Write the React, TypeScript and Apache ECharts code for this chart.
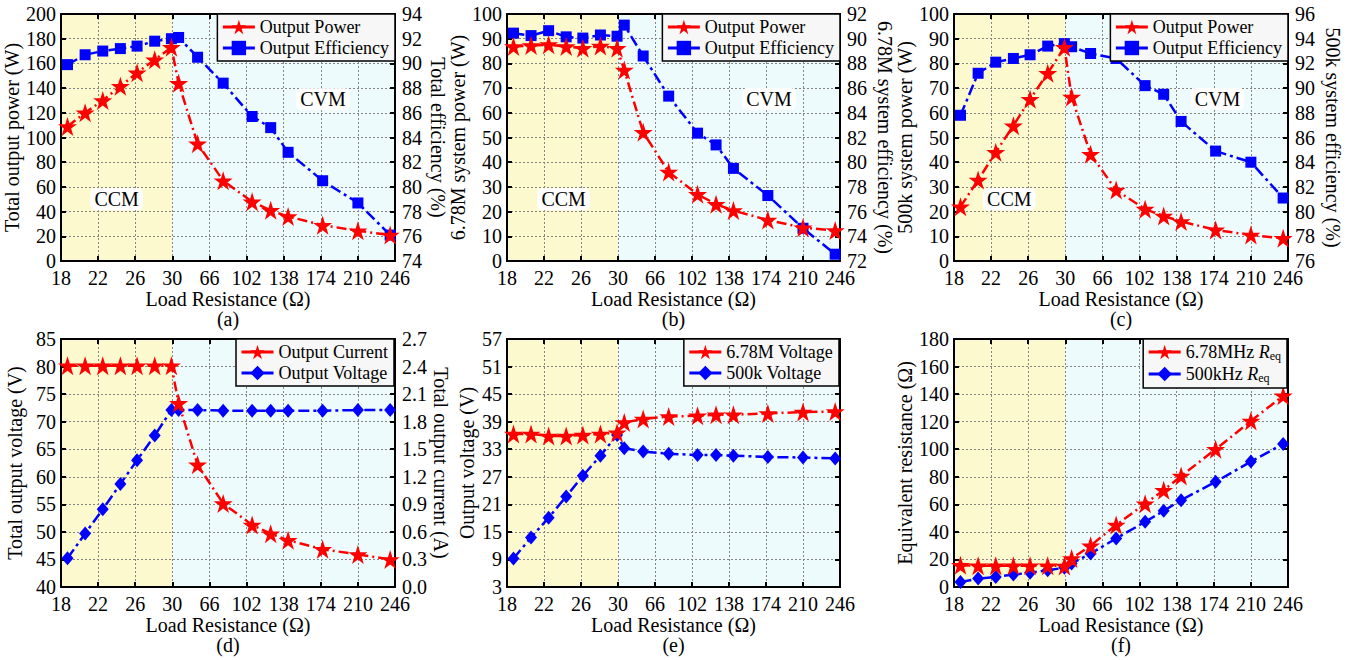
import React, { useEffect, useRef } from 'react';
import * as echarts from 'echarts';

// ---------- data ----------
const xTickLabels = ['18', '22', '26', '30', '66', '102', '138', '174', '210', '246'];
const loadResistance = [18.7, 20.6, 22.5, 24.4, 26.2, 28.1, 29.9, 36.1, 54.5, 79.3, 107.4, 125.4, 142.3, 175.8, 210, 241.3];

const powerA = [109, 120, 130, 141.5, 152.5, 163, 173, 144, 95, 65, 48, 41, 36, 29, 24.5, 21];
const effA = [89.9, 90.7, 91.0, 91.2, 91.4, 91.8, 92.0, 92.1, 90.5, 88.4, 85.7, 84.8, 82.8, 80.5, 78.7, 76.1];

const powerB = [86.8, 87.2, 87.6, 86.8, 86.1, 87.0, 86.1, 77.3, 52.1, 36, 27, 23, 20.4, 16.6, 13.5, 12.3];
const effB = [90.45, 90.25, 90.65, 90.15, 90.05, 90.3, 90.2, 91.1, 88.6, 85.35, 82.35, 81.4, 79.5, 77.3, 74.65, 72.55];

const powerC = [22, 32.8, 44, 54.8, 65.5, 76, 86.5, 66.4, 43.2, 28.7, 21, 18.2, 16, 12.6, 10.5, 9.2];
const effC = [87.8, 91.2, 92.1, 92.4, 92.7, 93.4, 93.6, 93.35, 92.8, 92.4, 90.2, 89.5, 87.3, 84.9, 84.0, 81.1];

const currentD = [2.41, 2.41, 2.41, 2.41, 2.41, 2.41, 2.41, 2.0, 1.33, 0.91, 0.675, 0.58, 0.51, 0.41, 0.355, 0.3];
const voltageD = [45.2, 49.7, 54.1, 58.7, 63.0, 67.5, 72.1, 72.1, 72.1, 72.0, 72.0, 72.0, 72.0, 72.0, 72.1, 72.1];

const voltHfE = [36.3, 36.3, 35.9, 35.9, 36.1, 36.3, 36.6, 38.8, 39.6, 40.1, 40.3, 40.5, 40.5, 40.8, 41.1, 41.2];
const voltLfE = [9.2, 13.8, 18.1, 22.7, 27.2, 31.6, 36.1, 33.2, 32.5, 32.0, 31.75, 31.75, 31.6, 31.3, 31.2, 31.0];

const reqHfF = [15.8, 15.5, 15.5, 15.5, 15.5, 15.5, 15.3, 20.6, 30, 45, 60.5, 70.3, 80.5, 100, 120.5, 138.8];
const reqLfF = [3.6, 6.1, 7.3, 9.0, 10.4, 12.1, 14, 17, 24.3, 35.2, 47.3, 55.3, 63, 76.4, 91, 103.8];

// ---------- styling ----------
const FONT = 'Liberation Serif';
const RED = '#FF0000';
const BLUE = '#0000FF';
const YELLOW_BG = '#FDF9CF';
const CYAN_BG = '#EEFBFD';
const STAR = 'path://M50,0 L61.2,34.5 L97.6,34.5 L68.2,55.9 L79.4,90.5 L50,69.1 L20.6,90.5 L31.8,55.9 L2.4,34.5 L38.8,34.5 Z';
const DIAMOND = 'path://M50,0 L100,50 L50,100 L0,50 Z';

const axisPos = (r: number) => (r <= 30 ? (r - 18) / 4 : 3 + (r - 30) / 36);

type SeriesDef = { name: string; data: number[]; right: boolean; kind: 'star' | 'square' | 'diamond' };
type AxisDef = { name: string; min: number; max: number; interval: number; gap: number; dec?: number };
type Panel = {
  grid: { left: number; top: number; width: number; height: number };
  yl: AxisDef;
  yr: AxisDef | null;
  series: SeriesDef[];
  legendRight: number;
  caption: string;
  captionY: number;
  ccm?: [number, number];
  cvm?: [number, number];
};

const panels: Panel[] = [
  {
    grid: { left: 61, top: 14, width: 334, height: 247 },
    yl: { name: 'Total output power (W)', min: 0, max: 200, interval: 20, gap: 34 },
    yr: { name: 'Total efficiency (%)', min: 74, max: 94, interval: 2, gap: 33 },
    series: [
      { name: 'Output Power', data: powerA, right: false, kind: 'star' },
      { name: 'Output Efficiency', data: effA, right: true, kind: 'square' },
    ],
    legendRight: 955, caption: '(a)', captionY: 319, ccm: [1.5, 50], cvm: [7.06, 131],
  },
  {
    grid: { left: 507, top: 14, width: 333, height: 247 },
    yl: { name: '6.78M system power (W)', min: 0, max: 100, interval: 10, gap: 30 },
    yr: { name: '6.78M system efficiency (%)', min: 72, max: 92, interval: 2, gap: 35 },
    series: [
      { name: 'Output Power', data: powerB, right: false, kind: 'star' },
      { name: 'Output Efficiency', data: effB, right: true, kind: 'square' },
    ],
    legendRight: 510, caption: '(b)', captionY: 319, ccm: [1.53, 25], cvm: [7.08, 65.6],
  },
  {
    grid: { left: 954, top: 14, width: 334, height: 247 },
    yl: { name: '500k system power (W)', min: 0, max: 100, interval: 10, gap: 30 },
    yr: { name: '500k system efficiency (%)', min: 76, max: 96, interval: 2, gap: 35 },
    series: [
      { name: 'Output Power', data: powerC, right: false, kind: 'star' },
      { name: 'Output Efficiency', data: effC, right: true, kind: 'square' },
    ],
    legendRight: 62, caption: '(c)', captionY: 319, ccm: [1.49, 25], cvm: [7.1, 65.6],
  },
  {
    grid: { left: 61, top: 339, width: 334, height: 248 },
    yl: { name: 'Total output voltage (V)', min: 40, max: 85, interval: 5, gap: 36 },
    yr: { name: 'Total output current (A)', min: 0, max: 2.7, interval: 0.3, gap: 34, dec: 1 },
    series: [
      { name: 'Output Current', data: currentD, right: true, kind: 'star' },
      { name: 'Output Voltage', data: voltageD, right: false, kind: 'diamond' },
    ],
    legendRight: 956, caption: '(d)', captionY: 645,
  },
  {
    grid: { left: 507, top: 339, width: 333, height: 248 },
    yl: { name: 'Output voltage (V)', min: 3, max: 57, interval: 6, gap: 30 },
    yr: null,
    series: [
      { name: '6.78M Voltage', data: voltHfE, right: false, kind: 'star' },
      { name: '500k Voltage', data: voltLfE, right: false, kind: 'diamond' },
    ],
    legendRight: 511, caption: '(e)', captionY: 645,
  },
  {
    grid: { left: 954, top: 339, width: 334, height: 248 },
    yl: { name: 'Equivalent resistance (\u03A9)', min: 0, max: 180, interval: 20, gap: 30 },
    yr: null,
    series: [
      { name: '6.78MHz Req', data: reqHfF, right: false, kind: 'star' },
      { name: '500kHz Req', data: reqLfF, right: false, kind: 'diamond' },
    ],
    legendRight: 63, caption: '(f)', captionY: 645,
  },
];

const black = '#000';
const axisLine = { show: true, onZero: false, lineStyle: { color: black, width: 2 } };
const axisTick = { show: true, inside: true, length: 5, lineStyle: { color: black, width: 2 } };
const splitLine = { show: true, lineStyle: { color: '#858585', width: 1, type: [2, 2] } };

function buildOption() {
  const grid: any[] = [];
  const xAxis: any[] = [];
  const yAxis: any[] = [];
  const series: any[] = [];
  const legend: any[] = [];
  const graphic: any[] = [];

  panels.forEach((p, i) => {
    grid.push({ ...p.grid, containLabel: false });
    xAxis.push({
      type: 'value', gridIndex: i, position: 'bottom', min: 0, max: 9, interval: 1,
      axisLine, axisTick, splitLine,
      axisLabel: {
        show: true, margin: 8, color: black, fontSize: 20, lineHeight: 18, fontFamily: FONT,
        formatter: (v: number) => xTickLabels[Math.round(v)] ?? '',
      },
      name: 'Load Resistance (\u03A9)', nameLocation: 'middle', nameGap: 27,
      nameTextStyle: { color: black, fontSize: 20, lineHeight: 19, fontFamily: FONT, verticalAlign: 'top' },
    });
    xAxis.push({
      type: 'value', gridIndex: i, position: 'top', min: 0, max: 9, interval: 1,
      axisLine, axisTick, splitLine: { show: false }, axisLabel: { show: false },
    });
    const fmt = (dec?: number) => (v: number) => (dec ? v.toFixed(dec) : String(Math.round(v)));
    yAxis.push({
      type: 'value', gridIndex: i, position: 'left', min: p.yl.min, max: p.yl.max, interval: p.yl.interval,
      axisLine, axisTick, splitLine,
      axisLabel: { margin: 5, color: black, fontSize: 20, lineHeight: 15, fontFamily: FONT, formatter: fmt(p.yl.dec) },
      name: p.yl.name, nameLocation: 'middle', nameGap: p.yl.gap,
      nameTextStyle: { color: black, fontSize: 20, fontFamily: FONT },
    });
    const r = p.yr ?? p.yl;
    yAxis.push({
      type: 'value', gridIndex: i, position: 'right', min: r.min, max: r.max, interval: r.interval,
      axisLine, axisTick, splitLine: { show: false },
      axisLabel: { show: !!p.yr, margin: 7, color: black, fontSize: 20, lineHeight: 15, fontFamily: FONT, formatter: fmt(r.dec) },
      name: p.yr ? p.yr.name : '', nameLocation: 'middle', nameGap: p.yr ? p.yr.gap : 0, nameRotate: -90,
      nameTextStyle: { color: black, fontSize: 20, fontFamily: FONT },
    });

    p.series.forEach((s, k) => {
      const color = s.kind === 'star' ? RED : BLUE;
      const symbol = s.kind === 'star' ? STAR : s.kind === 'square' ? 'rect' : DIAMOND;
      const symbolSize = s.kind === 'star' ? 19 : s.kind === 'square' ? 11 : [12, 14];
      const ser: any = {
        type: 'line', name: s.name, xAxisIndex: 2 * i, yAxisIndex: 2 * i + (s.right ? 1 : 0),
        data: s.data.map((v, j) => [axisPos(loadResistance[j]), v]),
        symbol, symbolSize, showAllSymbol: true,
        itemStyle: { color },
        lineStyle: { color, width: 2.5, type: s.kind === 'star' ? [10, 4, 2, 4] : [11, 4, 3, 4] },
        z: s.kind === 'star' ? 3 : 2,
      };
      if (k === 0) {
        ser.markArea = {
          silent: true, z: -1,
          data: [
            [{ xAxis: 0, itemStyle: { color: YELLOW_BG } }, { xAxis: 3 }],
            [{ xAxis: 3, itemStyle: { color: CYAN_BG } }, { xAxis: 9 }],
          ],
        };
        if (p.ccm && p.cvm) {
          ser.markPoint = {
            silent: true, symbol: 'rect', symbolSize: 0,
            label: {
              show: true, position: 'inside', formatter: '{b}', color: black, fontSize: 20, fontFamily: FONT,
              backgroundColor: '#fff', borderRadius: 5, padding: [2, 4, 0, 4],
            },
            data: [
              { name: 'CCM', coord: p.ccm },
              { name: 'CVM', coord: p.cvm },
            ],
          };
        }
      }
      series.push(ser);
    });

    legend.push({
      data: p.series.map((s) => s.name),
      orient: 'vertical', right: p.legendRight, top: p.grid.top,
      backgroundColor: '#F7F7F7', borderColor: black, borderWidth: 1.5, borderRadius: 0,
      padding: [4, 6, 4, 4], itemGap: 3, itemWidth: 32, itemHeight: 18,
      lineStyle: { type: 'solid', width: 3 },
      textStyle: {
        color: black, fontSize: 18, fontFamily: FONT,
        rich: {
          i: { fontStyle: 'italic', fontSize: 18, fontFamily: FONT, color: black },
          s: { fontSize: 12, fontFamily: FONT, color: black, padding: [8, 0, 0, 0] },
        },
      },
      formatter: (name: string) => (name.endsWith(' Req') ? name.slice(0, -4) + ' {i|R}{s|eq}' : name),
    });

    graphic.push({
      type: 'text', x: p.grid.left + p.grid.width / 2, y: p.captionY,
      style: { text: p.caption, fill: black, font: `20px "${FONT}"`, lineHeight: 20, textAlign: 'center', textVerticalAlign: 'middle' },
    });
  });

  return {
    animation: false,
    textStyle: { fontFamily: FONT },
    grid, xAxis, yAxis, series, legend, graphic,
  };
}

export default function App() {
  const ref = useRef<HTMLDivElement>(null);
  useEffect(() => {
    if (!ref.current) return;
    const chart = echarts.init(ref.current, null, { renderer: 'svg' });
    chart.setOption(buildOption() as any);
    return () => chart.dispose();
  }, []);
  return <div ref={ref} style={{ position: 'fixed', left: 0, top: 0, width: 1350, height: 660, background: '#fff' }} />;
}
